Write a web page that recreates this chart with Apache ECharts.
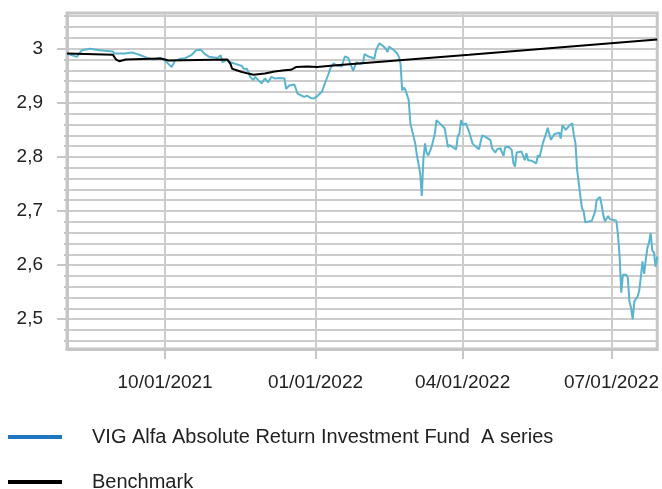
<!DOCTYPE html>
<html>
<head>
<meta charset="utf-8">
<script src="https://cdn.jsdelivr.net/npm/echarts@6/dist/echarts.min.js"></script>
<style>
  html, body { margin: 0; padding: 0; background: #fff; }
  #main { width: 662px; height: 489px; }
</style>
</head>
<body>
<div id="main"></div>
<script>
const fundName = 'VIG Alfa Absolute Return Investment Fund  A series'
const benchName = 'Benchmark'

const fundDates = [
  '2021-08-02','2021-08-08','2021-08-11','2021-08-16','2021-08-22','2021-08-30','2021-08-31',
  '2021-09-06','2021-09-11','2021-09-16','2021-09-20','2021-09-24','2021-09-28',
  '2021-10-01','2021-10-03','2021-10-05','2021-10-07','2021-10-11','2021-10-13','2021-10-17','2021-10-20','2021-10-23','2021-10-25','2021-10-28',
  '2021-11-02','2021-11-04','2021-11-05','2021-11-08','2021-11-10','2021-11-13','2021-11-17','2021-11-18','2021-11-20','2021-11-21','2021-11-22','2021-11-23','2021-11-24','2021-11-25','2021-11-27','2021-11-29',
  '2021-12-01','2021-12-03','2021-12-05','2021-12-07','2021-12-10','2021-12-13','2021-12-14','2021-12-16','2021-12-19','2021-12-20','2021-12-21','2021-12-25','2021-12-27','2021-12-29','2021-12-31',
  '2022-01-02','2022-01-05','2022-01-07','2022-01-09','2022-01-10','2022-01-12','2022-01-14','2022-01-17','2022-01-19','2022-01-21','2022-01-22','2022-01-24','2022-01-26','2022-01-28','2022-01-30','2022-01-31',
  '2022-02-02','2022-02-03','2022-02-06','2022-02-07','2022-02-09','2022-02-11','2022-02-13','2022-02-14','2022-02-15','2022-02-16','2022-02-18','2022-02-20','2022-02-21','2022-02-22','2022-02-23','2022-02-24','2022-02-25','2022-02-27','2022-02-28',
  '2022-03-03','2022-03-04','2022-03-06','2022-03-07','2022-03-08','2022-03-09','2022-03-10','2022-03-11','2022-03-13','2022-03-15','2022-03-16','2022-03-18','2022-03-21','2022-03-23','2022-03-24','2022-03-28','2022-03-29','2022-03-30','2022-03-31',
  '2022-04-01','2022-04-03','2022-04-05','2022-04-07','2022-04-09','2022-04-11','2022-04-12','2022-04-13','2022-04-15','2022-04-18','2022-04-19','2022-04-21','2022-04-22','2022-04-24','2022-04-26','2022-04-27','2022-04-29',
  '2022-05-01','2022-05-02','2022-05-03','2022-05-04','2022-05-07','2022-05-09','2022-05-10','2022-05-11','2022-05-13','2022-05-16','2022-05-17','2022-05-18','2022-05-20','2022-05-22','2022-05-23','2022-05-24','2022-05-25','2022-05-27','2022-05-30','2022-05-31',
  '2022-06-01','2022-06-03','2022-06-05','2022-06-07','2022-06-08','2022-06-09','2022-06-10','2022-06-12','2022-06-13','2022-06-14','2022-06-15','2022-06-19','2022-06-21','2022-06-22','2022-06-24','2022-06-25','2022-06-26','2022-06-27','2022-06-28','2022-06-29','2022-06-30',
  '2022-07-01','2022-07-04','2022-07-05','2022-07-06','2022-07-07','2022-07-08','2022-07-10','2022-07-11','2022-07-12','2022-07-13','2022-07-14','2022-07-15','2022-07-17','2022-07-18','2022-07-19','2022-07-20','2022-07-21','2022-07-22','2022-07-23','2022-07-24','2022-07-25','2022-07-26','2022-07-27','2022-07-28','2022-07-29'
]
const fundValues = [
  2.991,2.985,2.997,3.000,2.997,2.995,2.991,
  2.991,2.993,2.988,2.983,2.980,2.983,
  2.978,2.972,2.966,2.978,2.982,2.982,2.988,2.997,2.998,2.991,2.985,
  2.983,2.988,2.975,2.980,2.975,2.972,2.968,2.963,2.963,2.960,2.948,2.950,2.942,2.948,2.942,2.936,
  2.945,2.938,2.948,2.945,2.946,2.945,2.926,2.932,2.934,2.926,2.917,2.911,2.913,2.909,2.908,
  2.912,2.921,2.938,2.954,2.963,2.973,2.969,2.967,2.986,2.983,2.975,2.959,2.975,2.972,2.973,2.990,
  2.986,2.985,2.982,2.997,3.010,3.006,3.000,2.994,3.004,3.006,2.997,2.991,2.985,2.972,2.923,2.928,2.924,2.905,2.862,
  2.825,2.803,2.770,2.728,2.797,2.825,2.807,2.803,2.819,2.843,2.868,2.862,2.853,2.818,2.822,2.814,2.838,2.843,2.868,
  2.859,2.862,2.846,2.825,2.819,2.814,2.828,2.840,2.837,2.831,2.816,2.808,2.814,2.816,2.802,2.818,2.819,
  2.813,2.789,2.782,2.808,2.810,2.794,2.807,2.794,2.793,2.788,2.803,2.799,2.825,2.843,2.854,2.842,2.832,2.842,2.845,2.834,
  2.859,2.850,2.857,2.862,2.840,2.825,2.776,2.727,2.705,2.699,2.679,2.682,2.699,2.721,2.726,2.711,2.693,2.681,2.682,2.691,2.685,
  2.682,2.682,2.656,2.616,2.549,2.582,2.582,2.577,2.533,2.521,2.500,2.533,2.542,2.553,2.579,2.607,2.584,2.610,2.632,2.642,2.659,2.627,2.623,2.597,2.616
]

const benchDates = [
  '2021-08-02','2021-08-30','2021-09-01','2021-09-03','2021-09-07','2021-09-28','2021-10-01','2021-10-03',
  '2021-11-08','2021-11-10','2021-11-11','2021-11-17','2021-11-21','2021-11-24',
  '2021-12-01','2021-12-07','2021-12-13','2021-12-17','2021-12-20','2021-12-27','2021-12-28',
  '2022-01-02','2022-01-12','2022-04-05','2022-07-29'
]
const benchValues = [
  2.991,2.989,2.980,2.977,2.980,2.982,2.980,2.978,
  2.980,2.972,2.963,2.957,2.954,2.952,
  2.954,2.958,2.960,2.961,2.966,2.967,2.965,
  2.966,2.969,2.989,3.017
]

const yLabelTicks = [2.5, 2.6, 2.7, 2.8, 2.9, 3]
const yGridTicks = [2.46, 2.48, 2.5, 2.52, 2.54, 2.56, 2.58, 2.6, 2.62, 2.64, 2.66, 2.68, 2.7,
  2.72, 2.74, 2.76, 2.78, 2.8, 2.82, 2.84, 2.86, 2.88, 2.9, 2.92, 2.94, 2.96, 2.98, 3, 3.02, 3.04, 3.06]
const xTickDates = ['2021-10-01', '2022-01-01', '2022-04-01', '2022-07-01']

const toTime = s => echarts.number.parseDate(s).getTime()
const zip = (a, b) => a.map((d, i) => [toTime(d), b[i]])

const font = 'Liberation Sans'
const gridGray = '#cccccc'
const axisGray = '#c6c6c6'

const chart = echarts.init(document.getElementById('main'))

chart.setOption({
  animation: false,
  textStyle: { fontFamily: font },
  grid: {
    left: 67, right: 4, top: 13, bottom: 140,
    show: true, borderColor: axisGray, borderWidth: 3
  },
  legend: {
    orient: 'vertical',
    left: 8, top: 426, height: 100,
    padding: 0,
    itemWidth: 54, itemHeight: 4,
    itemGap: 23,
    textStyle: { fontSize: 20, color: '#222', lineHeight: 22, padding: [0, 0, 0, 25], fontFamily: font },
    data: [
      { name: fundName, icon: 'rect', itemStyle: { color: '#1f78bf' } },
      { name: benchName, icon: 'rect', itemStyle: { color: '#000' } }
    ]
  },
  // dates kept on a value axis so the quarter ticks can be placed exactly
  xAxis: {
    type: 'value',
    min: toTime('2021-08-02'),
    max: toTime('2022-07-29'),
    axisLine: { lineStyle: { color: axisGray, width: 3 } },
    axisTick: { show: true, length: 10, customValues: xTickDates.map(toTime), lineStyle: { color: axisGray, width: 2 } },
    axisLabel: {
      customValues: xTickDates.map(toTime),
      formatter: v => echarts.time.format(v, '{MM}/{dd}/{yyyy}', false),
      fontSize: 19, color: '#222', margin: 24, fontFamily: font
    },
    splitLine: { show: true, lineStyle: { color: gridGray, width: 2 } }
  },
  yAxis: [
    {
      type: 'value', min: 2.445, max: 3.066, position: 'left',
      axisLine: { show: true, lineStyle: { color: axisGray, width: 3 } },
      axisTick: { show: true, length: 10, customValues: yLabelTicks, lineStyle: { color: axisGray, width: 2 } },
      axisLabel: {
        customValues: yLabelTicks,
        formatter: v => String(v).replace('.', ','),
        fontSize: 19, color: '#222', margin: 24, fontFamily: font
      },
      splitLine: { show: false }
    },
    {
      type: 'value', min: 2.445, max: 3.066, position: 'left',
      axisLine: { show: false },
      axisTick: { show: true, length: 3, customValues: yGridTicks, lineStyle: { color: axisGray, width: 2 } },
      axisLabel: { show: false },
      splitLine: { show: true, lineStyle: { color: gridGray, width: 2 } }
    }
  ],
  series: [
    {
      name: fundName, type: 'line', yAxisIndex: 0, symbol: 'none',
      lineStyle: { color: '#5ab4cf', width: 2 },
      itemStyle: { color: '#5ab4cf' },
      data: zip(fundDates, fundValues),
      z: 3
    },
    {
      name: benchName, type: 'line', yAxisIndex: 0, symbol: 'none',
      lineStyle: { color: '#000', width: 2 },
      itemStyle: { color: '#000' },
      data: zip(benchDates, benchValues),
      z: 4
    }
  ]
})
</script>
</body>
</html>
